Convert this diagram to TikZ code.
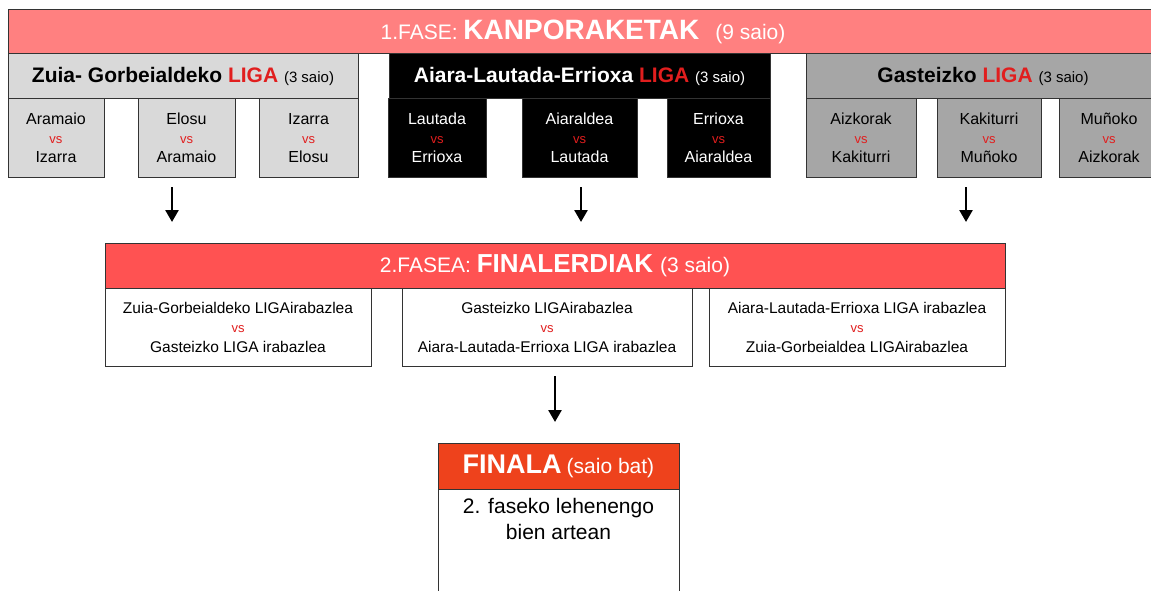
\documentclass[tikz,border=0pt]{standalone}
\usepackage{fontspec}
\setmainfont{Liberation Sans}
\usetikzlibrary{arrows.meta}
\definecolor{fase1}{RGB}{255,128,128}
\definecolor{fase2}{RGB}{255,82,82}
\definecolor{finalgorri}{RGB}{238,66,28}
\definecolor{grisargi}{RGB}{217,217,217}
\definecolor{grisilun}{RGB}{166,166,166}
\definecolor{gorria}{RGB}{225,30,30}
\newcommand{\aurka}{{\color{gorria}\fontsize{13}{\the\baselineskip}\selectfont vs}}
\newcommand{\ligagorri}{{\color{gorria}LIGA}}
\newcommand{\hirusaio}{{\mdseries\fontsize{15}{18}\selectfont(3 saio)}}
\begin{document}
\begin{tikzpicture}[x=1pt, y=-1pt,
        every node/.style={inner sep=0pt, outer sep=0pt},
        kutxa/.style={draw=black!80, line width=1pt, anchor=north west, align=center},
        goiburu/.style={kutxa, text=white},
        liga/.style={kutxa, minimum height=45pt, font=\bfseries\fontsize{21}{25}\selectfont},
        partida/.style={kutxa, minimum height=78pt, font=\fontsize{16}{19}\selectfont},
        irabazle/.style={kutxa, minimum height=78pt, fill=white, font=\fontsize{15.5}{19.5}\selectfont},
        gezia/.style={-{Triangle[width=13pt,length=12pt]}, line width=2.6pt},
    ]
    \useasboundingbox (0,0) rectangle (1151,591);

    % 1. fasea
    \node[goiburu, fill=fase1, minimum width=1150pt, minimum height=44pt] (fase1) at (8,10)
        {{\fontsize{21}{25}\selectfont 1.FASE: }{\bfseries\fontsize{28}{32}\selectfont KANPORAKETAK}\hspace{16pt}{\fontsize{21}{25}\selectfont (9 saio)}};
    \node[liga, fill=grisargi, minimum width=350pt] (zuia) at (8,54) {Zuia- Gorbeialdeko \ligagorri\ \hirusaio};
    \node[liga, fill=black, text=white, minimum width=381pt] (aiara) at (389,54) {Aiara-Lautada-Errioxa \ligagorri\ \hirusaio};
    \node[liga, fill=grisilun, minimum width=354pt] (gasteiz) at (806,54) {Gasteizko \ligagorri\ \hirusaio};

    \node[partida, fill=grisargi, minimum width=96pt] (zuia1) at (8,99) {Aramaio\\\aurka\\Izarra};
    \node[partida, fill=grisargi, minimum width=97pt] (zuia2) at (138,99) {Elosu\\\aurka\\Aramaio};
    \node[partida, fill=grisargi, minimum width=99pt] (zuia3) at (259,99) {Izarra\\\aurka\\Elosu};
    \node[partida, fill=black, text=white, minimum width=98pt] (aiara1) at (388,99) {Lautada\\\aurka\\Errioxa};
    \node[partida, fill=black, text=white, minimum width=115pt] (aiara2) at (522,99) {Aiaraldea\\\aurka\\Lautada};
    \node[partida, fill=black, text=white, minimum width=103pt] (aiara3) at (667,99) {Errioxa\\\aurka\\Aiaraldea};
    \node[partida, fill=grisilun, minimum width=110pt] (gasteiz1) at (806,99) {Aizkorak\\\aurka\\Kakiturri};
    \node[partida, fill=grisilun, minimum width=104pt] (gasteiz2) at (937,99) {Kakiturri\\\aurka\\Muñoko};
    \node[partida, fill=grisilun, minimum width=100pt] (gasteiz3) at (1059,99) {Muñoko\\\aurka\\Aizkorak};

    % geziak
    \coordinate (g1) at (172,187);
    \coordinate (g1b) at (172,222);
    \coordinate (g2) at (581,187);
    \coordinate (g2b) at (581,222);
    \coordinate (g3) at (966,187);
    \coordinate (g3b) at (966,222);
    \draw[gezia] (g1) -- (g1b);
    \draw[gezia] (g2) -- (g2b);
    \draw[gezia] (g3) -- (g3b);

    % 2. fasea
    \node[goiburu, fill=fase2, minimum width=900pt, minimum height=45pt] (fase2) at (105,243)
        {{\fontsize{21}{25}\selectfont 2.FASEA: }{\bfseries\fontsize{26}{30}\selectfont FINALERDIAK}\hspace{7pt}{\fontsize{21}{25}\selectfont(3 saio)}};
    \node[irabazle, minimum width=266pt] (erdi1) at (105,288) {Zuia-Gorbeialdeko LIGAirabazlea\\\aurka\\Gasteizko LIGA irabazlea};
    \node[irabazle, minimum width=290pt] (erdi2) at (402,288) {Gasteizko LIGAirabazlea\\\aurka\\Aiara-Lautada-Errioxa LIGA irabazlea};
    \node[irabazle, minimum width=296pt] (erdi3) at (709,288) {Aiara-Lautada-Errioxa LIGA irabazlea\\\aurka\\Zuia-Gorbeialdea LIGAirabazlea};

    \coordinate (g4) at (555,376);
    \coordinate (g4b) at (555,422);
    \draw[gezia] (g4) -- (g4b);

    % finala
    \node[goiburu, fill=finalgorri, minimum width=241pt, minimum height=46pt] (finala) at (438,443)
        {{\bfseries\fontsize{27}{30}\selectfont FINALA}\hspace{5pt}{\fontsize{21}{25}\selectfont(saio bat)}};
    \node[kutxa, fill=white, minimum width=241pt, minimum height=120pt] (finalgorputz) at (438,489) {};
    \node[anchor=north, align=center, font=\fontsize{21}{26}\selectfont] (finaltestu) at (558.5,498) {2. faseko lehenengo\\bien artean};
\end{tikzpicture}
\end{document}
